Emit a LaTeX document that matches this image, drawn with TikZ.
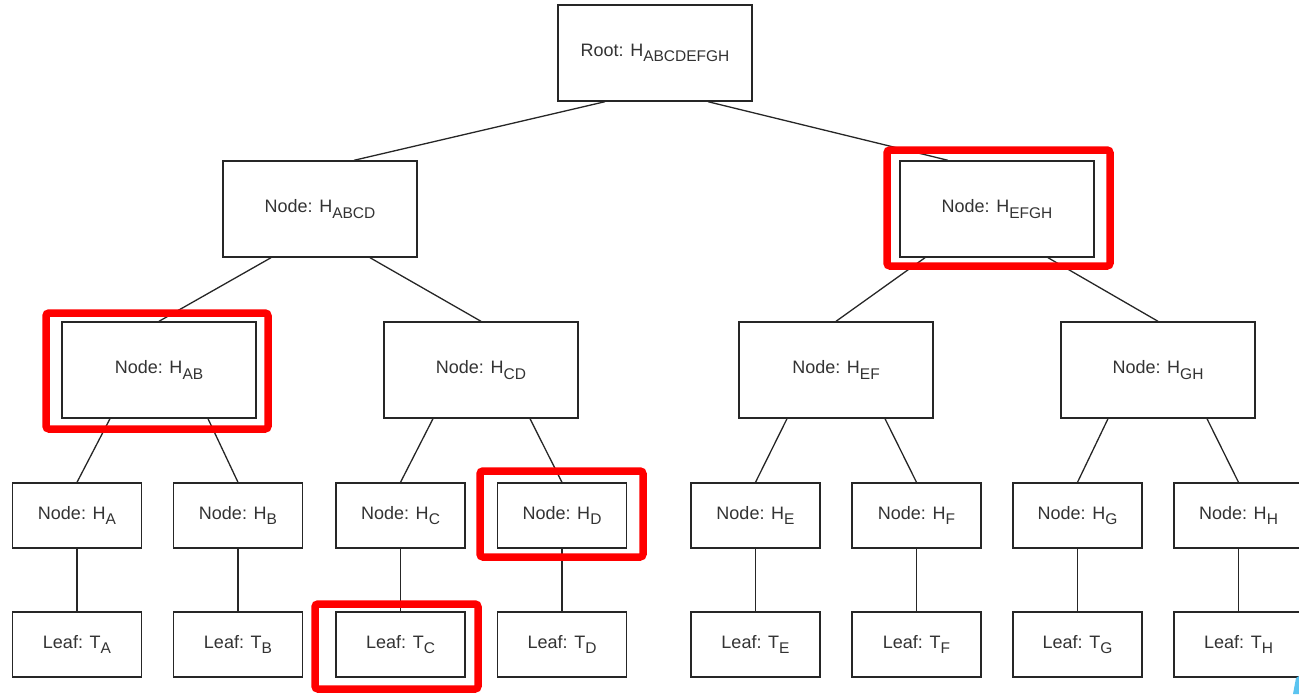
\documentclass[tikz,border=0pt]{standalone}
\usepackage{fontspec}
\setmainfont{Liberation Sans}
% lowered, smaller index text after H / T
\newcommand{\hsub}[1]{\raisebox{-5.5pt}{\fontsize{15.5}{15.5}\selectfont #1}}
\definecolor{inkgray}{HTML}{333333}
\definecolor{markblue}{HTML}{5BC4F0}
\begin{document}
\begin{tikzpicture}[x=1pt,y=-1pt,
  box/.style={draw=black!85, line width=1.4pt, fill=white, inner sep=0pt,
              text=inkgray, font=\fontsize{18}{21}\selectfont},
  bigbox/.style={box, minimum width=194pt, minimum height=96pt},
  smallbox/.style={box, minimum width=129pt, minimum height=65pt},
  link/.style={draw=black!85, line width=1.3pt},
  highlight/.style={draw=red, line width=7.5pt, rounded corners=3pt}]
\useasboundingbox (0,0) rectangle (1299,694);

% root and inner hash nodes
\node[bigbox] (root) at (655,53)   {Root: H\hsub{ABCDEFGH}};
\node[bigbox] (abcd) at (320,209)  {Node: H\hsub{ABCD}};
\node[bigbox] (efgh) at (997,209)  {Node: H\hsub{EFGH}};
\node[bigbox] (ab)   at (159,370)  {Node: H\hsub{AB}};
\node[bigbox] (cd)   at (481,370)  {Node: H\hsub{CD}};
\node[bigbox] (ef)   at (836,370)  {Node: H\hsub{EF}};
\node[bigbox] (gh)   at (1158,370) {Node: H\hsub{GH}};

% single-item hash nodes
\node[smallbox] (ha) at (77,515.5)     {Node: H\hsub{A}};
\node[smallbox] (hb) at (238,515.5)    {Node: H\hsub{B}};
\node[smallbox] (hc) at (400.5,515.5)  {Node: H\hsub{C}};
\node[smallbox] (hd) at (562,515.5)    {Node: H\hsub{D}};
\node[smallbox] (he) at (755.5,515.5)  {Node: H\hsub{E}};
\node[smallbox] (hf) at (916.5,515.5)  {Node: H\hsub{F}};
\node[smallbox] (hg) at (1077.5,515.5) {Node: H\hsub{G}};
\node[smallbox] (hh) at (1238.5,515.5) {Node: H\hsub{H}};

% leaves
\node[smallbox] (ta) at (77,644.5)     {Leaf: T\hsub{A}};
\node[smallbox] (tb) at (238,644.5)    {Leaf: T\hsub{B}};
\node[smallbox] (tc) at (400.5,644.5)  {Leaf: T\hsub{C}};
\node[smallbox] (td) at (562,644.5)    {Leaf: T\hsub{D}};
\node[smallbox] (te) at (755.5,644.5)  {Leaf: T\hsub{E}};
\node[smallbox] (tf) at (916.5,644.5)  {Leaf: T\hsub{F}};
\node[smallbox] (tg) at (1077.5,644.5) {Leaf: T\hsub{G}};
\node[smallbox] (th) at (1238.5,644.5) {Leaf: T\hsub{H}};

% tree edges
\draw[link] ([xshift=-50pt]root.south) -- ([xshift=34pt]abcd.north);
\draw[link] ([xshift=53pt]root.south)  -- ([xshift=-49pt]efgh.north);
\draw[link] ([xshift=-49pt]abcd.south) -- (ab.north);
\draw[link] ([xshift=50pt]abcd.south)  -- (cd.north);
\draw[link] ([xshift=-72pt]efgh.south) -- (ef.north);
\draw[link] ([xshift=51pt]efgh.south)  -- (gh.north);
\draw[link] ([xshift=-49pt]ab.south) -- (ha.north);
\draw[link] ([xshift=49pt]ab.south)  -- (hb.north);
\draw[link] ([xshift=-48pt]cd.south) -- (hc.north);
\draw[link] ([xshift=49pt]cd.south)  -- (hd.north);
\draw[link] ([xshift=-49pt]ef.south) -- (he.north);
\draw[link] ([xshift=49pt]ef.south)  -- (hf.north);
\draw[link] ([xshift=-50pt]gh.south) -- (hg.north);
\draw[link] ([xshift=49pt]gh.south)  -- (hh.north);
\foreach \n/\l in {ha/ta,hb/tb,hc/tc,hd/td,he/te,hf/tf,hg/tg,hh/th}
  \draw[link] (\n.south) -- (\l.north);

% red highlight frames
\draw[highlight] (46,313)  rectangle (268,429);
\draw[highlight] (887,150) rectangle (1110,266);
\draw[highlight] (480,471) rectangle (643,557);
\draw[highlight] (315,604) rectangle (478,689);

% small blue mark in the lower right corner
\fill[markblue] (1293,694) -- (1296,678) -- (1299,676) -- (1299,694) -- cycle;
\end{tikzpicture}
\end{document}
